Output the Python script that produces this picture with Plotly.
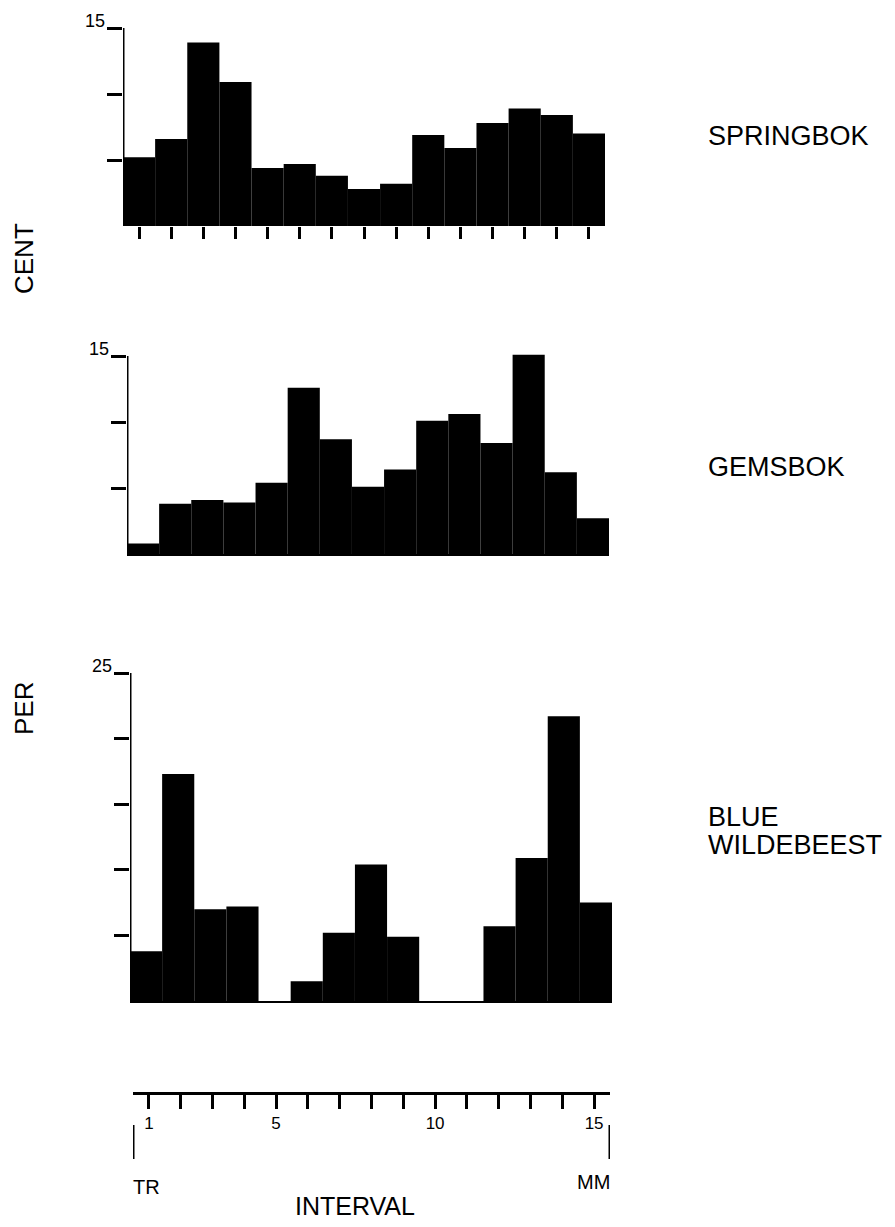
import plotly.graph_objects as go

# ---------------- data ----------------
intervals = list(range(1, 16))
springbok = [5.2, 6.6, 13.9, 10.9, 4.4, 4.7, 3.8, 2.8, 3.2, 6.9, 5.9, 7.8, 8.9, 8.4, 7.0]
gemsbok = [0.8, 3.8, 4.1, 3.9, 5.4, 12.6, 8.7, 5.1, 6.4, 10.1, 10.6, 8.4, 15.1, 6.2, 2.7]
wildebeest = [3.8, 17.3, 7.0, 7.2, 0.0, 1.5, 5.2, 10.4, 4.9, 0.0, 0.0, 5.7, 10.9, 21.7, 7.5]
species = ["SPRINGBOK", "GEMSBOK", "BLUE<br>WILDEBEEST"]
axis_max = [15, 15, 25]
interval_tick_labels = ["1", "", "", "", "5", "", "", "", "", "10", "", "", "", "", "15"]
y_label_parts = ["PER", "CENT"]
x_title = "INTERVAL"
end_labels = ["TR", "MM"]

# ---------------- layout helpers ----------------
PAGE_W, PAGE_H = 895, 1227
OFF = 8  # default page margin around the plot div
W, H = PAGE_W - 2 * OFF, PAGE_H - 2 * OFF
FONT = "Liberation Sans, Arial, Helvetica, sans-serif"
LABEL_SIZE = 27


def px(x):
    return (x - OFF) / W


def py(y):
    return 1 - (y - OFF) / H


def sfx(n):
    return "" if n == 1 else str(n)


panels = [
    dict(vals=springbok, x0=123, x1=605, zero=226, top=28, rmax=15.0, xticks=True, label_y=136),
    dict(vals=gemsbok, x0=127, x1=609, zero=554, top=356, rmax=15.6, xticks=False, label_y=467),
    dict(vals=wildebeest, x0=130, x1=612, zero=1001, top=673, rmax=25.0, xticks=False, label_y=817),
]
LINE_GAP = 28

fig = go.Figure()
layout = dict(
    width=W, height=H, autosize=False,
    margin=dict(l=0, r=0, t=0, b=0),
    paper_bgcolor="white", plot_bgcolor="white",
    showlegend=False,
    font=dict(family=FONT, color="black"),
)
shapes = []
annotations = []

for i, p in enumerate(panels):
    s = sfx(i + 1)
    tmax = axis_max[i]
    ppu = (p["zero"] - p["top"]) / tmax
    top_px = p["zero"] - p["rmax"] * ppu
    fig.add_trace(go.Bar(
        x=intervals, y=p["vals"], width=1,
        marker=dict(color="black", line=dict(width=0)),
        xaxis=f"x{s}", yaxis=f"y{s}", hoverinfo="x+y",
    ))
    layout[f"xaxis{s}"] = dict(
        domain=[px(p["x0"]), px(p["x1"])], range=[0.5, 15.5],
        anchor=f"y{s}", showgrid=False, zeroline=False,
        showline=not p["xticks"], linecolor="black", linewidth=2,
        ticks="outside" if p["xticks"] else "", tickvals=intervals,
        ticklen=12, tickwidth=3, tickcolor="black", showticklabels=False,
        fixedrange=True,
    )
    layout[f"yaxis{s}"] = dict(
        domain=[py(p["zero"]), py(top_px)], range=[0, p["rmax"]],
        anchor=f"x{s}", showgrid=False, zeroline=False, showline=False,
        ticks="outside", tickvals=list(range(5, tmax + 1, 5)),
        ticklen=15, tickwidth=3, tickcolor="black", showticklabels=False,
        fixedrange=True,
    )
    # vertical axis line from 0 to the top tick
    shapes.append(dict(type="line", xref=f"x{s}", yref=f"y{s}",
                       x0=0.5, x1=0.5, y0=0, y1=tmax,
                       line=dict(color="black", width=3)))
    # top tick label
    annotations.append(dict(text=str(tmax), xref=f"x{s} domain", x=0, yref=f"y{s}", y=tmax,
                            xanchor="right", yanchor="middle", xshift=-16, yshift=7,
                            showarrow=False, font=dict(size=18, family=FONT, color="black")))
    # species label (one annotation per line for tight line spacing)
    for j, line in enumerate(species[i].split("<br>")):
        annotations.append(dict(text=line, xref="paper", yref="paper",
                                x=px(706), y=py(p["label_y"] + j * LINE_GAP),
                                xanchor="left", yanchor="middle",
                                showarrow=False,
                                font=dict(size=LABEL_SIZE, family=FONT, color="black")))

# vertical axis title split in two parts
annotations.append(dict(text=y_label_parts[1], xref="paper", yref="paper", x=px(24), y=py(259),
                        textangle=-90, showarrow=False, xanchor="center", yanchor="middle",
                        font=dict(size=26, family=FONT, color="black")))
annotations.append(dict(text=y_label_parts[0], xref="paper", yref="paper", x=px(24), y=py(709),
                        textangle=-90, showarrow=False, xanchor="center", yanchor="middle",
                        font=dict(size=26, family=FONT, color="black")))

# separate interval scale at the bottom
fig.add_trace(go.Scatter(x=intervals, y=[0] * len(intervals), mode="markers",
                         marker=dict(opacity=0), xaxis="x4", yaxis="y4", hoverinfo="skip"))
layout["xaxis4"] = dict(
    domain=[px(133), px(610)], range=[0.5, 15.5], anchor="y4",
    showgrid=False, zeroline=False, showline=True, linecolor="black", linewidth=3,
    ticks="outside", tickvals=intervals, ticktext=interval_tick_labels,
    ticklen=14, tickwidth=3, tickcolor="black",
    tickfont=dict(size=17, family=FONT, color="black"), fixedrange=True,
)
layout["yaxis4"] = dict(domain=[py(1092), py(1080)], range=[0, 1], anchor="x4",
                        visible=False, fixedrange=True)
for xv in (0.5, 15.5):
    shapes.append(dict(type="line", xref="x4", yref="paper", x0=xv, x1=xv,
                       y0=py(1125), y1=py(1159), line=dict(color="black", width=3)))
annotations.append(dict(text=end_labels[0], xref="x4", yref="paper", x=0.5, y=py(1187),
                        xanchor="left", yanchor="middle", xshift=-2, showarrow=False,
                        font=dict(size=20, family=FONT, color="black")))
annotations.append(dict(text=end_labels[1], xref="x4", yref="paper", x=15.5, y=py(1182),
                        xanchor="right", yanchor="middle", xshift=2, showarrow=False,
                        font=dict(size=20, family=FONT, color="black")))
annotations.append(dict(text=x_title, xref="paper", yref="paper", x=px(355), y=py(1206),
                        xanchor="center", yanchor="middle", showarrow=False,
                        font=dict(size=25, family=FONT, color="black")))

layout["shapes"] = shapes
layout["annotations"] = annotations
fig.update_layout(**layout)
fig.write_html("out.html")
